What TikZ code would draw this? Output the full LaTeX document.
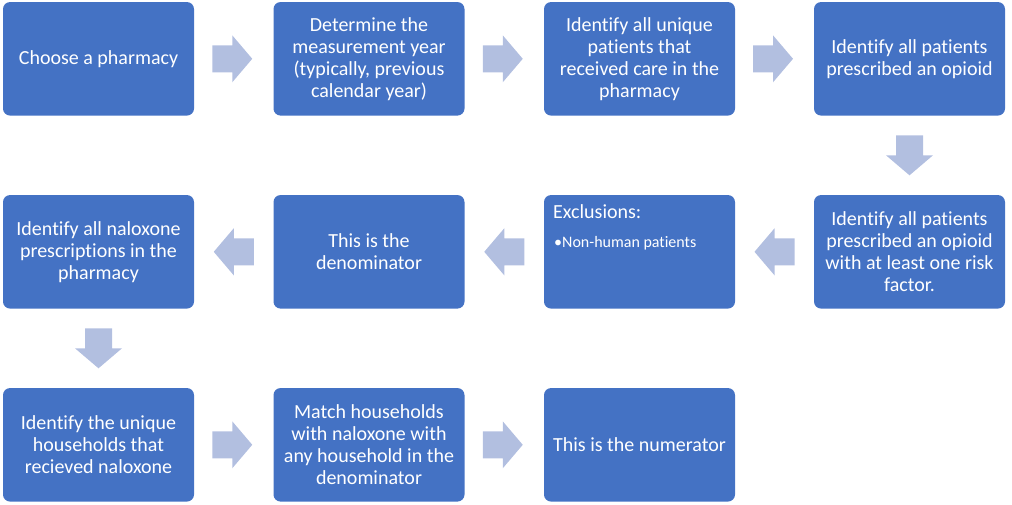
\documentclass[tikz,border=0pt]{standalone}
\usepackage{fontspec}
\setmainfont{Carlito}[Ligatures={NoCommon}]
\usetikzlibrary{calc}
\definecolor{boxblue}{HTML}{4472C4}
\definecolor{arrowblue}{HTML}{B2BFE0}
\begin{document}
\begin{tikzpicture}[x=1pt,y=-1pt,
  stepbox/.style={rectangle, rounded corners=7pt, fill=boxblue, draw=none, text=white,
    minimum width=191pt, minimum height=113.5pt, inner sep=0pt, align=center,
    font=\fontsize{20}{22}\selectfont},
  blockarr/.pic={\fill[arrowblue] (-20,-13.5) -- (0,-13.5) -- (0,-23.5) -- (20,0)
      -- (0,23.5) -- (0,13.5) -- (-20,13.5) -- cycle;},
  txt/.style={text=white, inner sep=0pt, anchor=base west}]
\useasboundingbox (0,0) rectangle (1012,504);
% row 1
\node[stepbox] (a1) at (98.5,58.8) {Choose a pharmacy};
\node[stepbox] (a2) at (369,58.8) {Determine the\\measurement year\\(typically, previous\\calendar year)};
\node[stepbox] (a3) at (639.5,58.8) {Identify all unique\\patients that\\received care in the\\pharmacy};
\node[stepbox] (a4) at (909.5,58.8) {Identify all patients\\prescribed an opioid};
% row 2
\node[stepbox] (b4) at (909.5,251.8) {Identify all patients\\prescribed an opioid\\with at least one risk\\factor.};
\node[stepbox] (b3) at (639.5,251.8) {};
\node[txt, font=\fontsize{20}{22}\selectfont] (b3t) at (553,218) {Exclusions:};
\node[txt, font=\fontsize{16}{18}\selectfont] (b3i) at (554,247) {\makebox[8pt][l]{•}Non-human patients};
\node[stepbox] (b2) at (369,251.8) {This is the\\denominator};
\node[stepbox] (b1) at (98.5,251.8) {Identify all naloxone\\prescriptions in the\\pharmacy};
% row 3
\node[stepbox] (c1) at (98.5,444.8) {Identify the unique\\households that\\recieved naloxone};
\node[stepbox] (c2) at (369,444.8) {Match households\\with naloxone with\\any household in the\\denominator};
\node[stepbox] (c3) at (639.5,444.8) {This is the numerator};
% arrow positions
\coordinate (r1) at ($(a1.east)!0.5!(a2.west)+(-1.5,0)$);
\coordinate (r2) at ($(a2.east)!0.5!(a3.west)+(-1.5,0)$);
\coordinate (r3) at ($(a3.east)!0.5!(a4.west)+(-1.5,0)$);
\coordinate (d1) at ($(a4.south)!0.5!(b4.north)$);
\coordinate (l1) at ($(b4.west)!0.5!(b3.east)$);
\coordinate (l2) at ($(b3.west)!0.5!(b2.east)$);
\coordinate (l3) at ($(b2.west)!0.5!(b1.east)$);
\coordinate (d2) at ($(b1.south)!0.5!(c1.north)$);
\coordinate (r4) at ($(c1.east)!0.5!(c2.west)+(-1.5,0)$);
\coordinate (r5) at ($(c2.east)!0.5!(c3.west)+(-1.5,0)$);
% arrows
\pic at (r1) {blockarr};
\pic at (r2) {blockarr};
\pic at (r3) {blockarr};
\pic[rotate=-90] at (d1) {blockarr};
\pic[rotate=180] at (l1) {blockarr};
\pic[rotate=180] at (l2) {blockarr};
\pic[rotate=180] at (l3) {blockarr};
\pic[rotate=-90] at (d2) {blockarr};
\pic at (r4) {blockarr};
\pic at (r5) {blockarr};
\end{tikzpicture}
\end{document}
